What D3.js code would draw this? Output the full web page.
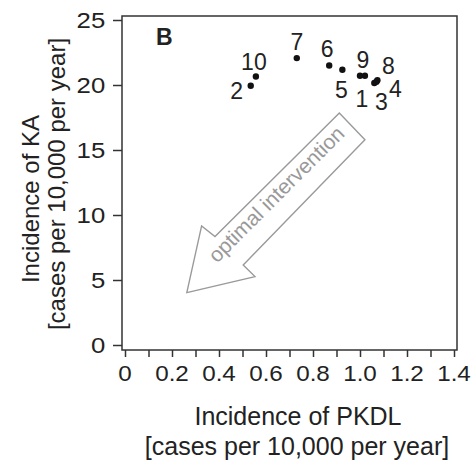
<!DOCTYPE html>
<html>
<head>
<meta charset="utf-8">
<script src="https://cdn.jsdelivr.net/npm/d3@7"></script>
<style>
  body { margin: 0; background: #fff; }
  svg text { font-family: "Liberation Sans", Arial, Helvetica, sans-serif; fill: #222; }
</style>
</head>
<body>
<div id="chart"></div>
<script>
// settings: point id, PKDL incidence, KA incidence
const settings = ['1', '2', '3', '4', '5', '6', '7', '8', '9', '10'];
const pkdl = [1.000, 0.535, 1.061, 1.070, 0.925, 0.869, 0.731, 1.074, 1.021, 0.557];
const ka   = [20.71, 19.94, 20.15, 20.25, 21.17, 21.50, 22.07, 20.36, 20.71, 20.65];

const xTicks = [0, 0.2, 0.4, 0.6, 0.8, 1.0, 1.2, 1.4];
const xTickLabels = ['0', '0.2', '0.4', '0.6', '0.8', '1.0', '1.2', '1.4'];
const xMinorTicks = d3.range(0, 15).map(i => i / 10);
const yTicks = [0, 5, 10, 15, 20, 25];

// where each number label sits relative to its dot (px)
const labelOffset = {
    '1': [2, 31], '2': [-14, 13], '3': [7, 27], '4': [19, 15], '5': [-1, 28],
    '6': [-2, -9], '7': [0, -8], '8': [11, -6], '9': [-2, -8], '10': [-2, -7]
};

// arrow outline in data units
const arrowPts = [
    [0.263, 4.03], [0.326, 9.16], [0.383, 8.34], [0.912, 17.84],
    [1.021, 15.78], [0.503, 6.16], [0.553, 5.26]
];

const width = 473, height = 462;
const box = {left: 122, right: 457, top: 16, bottom: 350};

const svg = d3.select('#chart')
    .append('svg')
    .attr('width', width)
    .attr('height', height);

const x = d3.scaleLinear().domain([0, 1.4]).range([125, 454]);
const y = d3.scaleLinear().domain([0, 25]).range([345, 20]);

// frame
svg.append('rect')
    .attr('x', box.left)
    .attr('y', box.top)
    .attr('width', box.right - box.left)
    .attr('height', box.bottom - box.top)
    .attr('fill', 'none')
    .attr('stroke', '#333')
    .attr('stroke-width', 1.5);

// y axis
const yAxis = svg.append('g')
    .attr('transform', `translate(${box.left},0)`)
    .call(d3.axisLeft(y).tickValues(yTicks).tickSize(9).tickPadding(6));
yAxis.select('.domain').remove();
yAxis.selectAll('line').attr('stroke', '#333').attr('stroke-width', 1.5);
yAxis.selectAll('text')
    .attr('font-size', 23)
    .attr('fill', '#222')
    .attr('transform', 'scale(1.12,1)');

// x axis: minor ticks every 0.1, labels every 0.2
const xAxis = svg.append('g')
    .attr('transform', `translate(0,${box.bottom})`)
    .call(d3.axisBottom(x).tickValues(xMinorTicks).tickSize(7).tickFormat(''));
xAxis.select('.domain').remove();
xAxis.selectAll('line').attr('stroke', '#333').attr('stroke-width', 1.5);

svg.append('g')
    .selectAll('text')
    .data(xTicks)
    .enter()
    .append('text')
    .attr('transform', d => `translate(${x(d)},381) scale(1.1,1)`)
    .attr('text-anchor', 'middle')
    .attr('font-size', 22)
    .text((d, i) => xTickLabels[i]);

// axis titles
svg.append('text')
    .attr('x', 298).attr('y', 425)
    .attr('text-anchor', 'middle')
    .attr('font-size', 25)
    .text('Incidence of PKDL');
svg.append('text')
    .attr('x', 297).attr('y', 455)
    .attr('text-anchor', 'middle')
    .attr('font-size', 25)
    .text('[cases per 10,000 per year]');

svg.append('text')
    .attr('transform', 'translate(39,199) rotate(-90)')
    .attr('text-anchor', 'middle')
    .attr('font-size', 24)
    .text('Incidence of KA');
svg.append('text')
    .attr('transform', 'translate(65,184) rotate(-90)')
    .attr('text-anchor', 'middle')
    .attr('font-size', 24)
    .text('[cases per 10,000 per year]');

// panel letter
svg.append('text')
    .attr('x', 156).attr('y', 45)
    .attr('font-size', 23)
    .attr('font-weight', 'bold')
    .text('B');

// arrow annotation
svg.append('path')
    .attr('d', d3.line().x(d => x(d[0])).y(d => y(d[1]))(arrowPts) + 'Z')
    .attr('fill', 'none')
    .attr('stroke', '#9a9a9a')
    .attr('stroke-width', 1.4)
    .attr('stroke-linejoin', 'miter');

svg.append('text')
    .attr('transform', `translate(${x(0.665)},${y(11.2)}) rotate(-45)`)
    .attr('text-anchor', 'middle')
    .attr('font-size', 21)
    .style('fill', '#999')
    .text('optimal intervention');

// points
const pts = settings.map((s, i) => ({id: s, px: pkdl[i], ka: ka[i]}));

svg.append('g')
    .selectAll('circle')
    .data(pts)
    .enter()
    .append('circle')
    .attr('cx', d => x(d.px))
    .attr('cy', d => y(d.ka))
    .attr('r', 3.2)
    .attr('fill', '#111');

svg.append('g')
    .selectAll('text')
    .data(pts)
    .enter()
    .append('text')
    .attr('x', d => x(d.px) + labelOffset[d.id][0])
    .attr('y', d => y(d.ka) + labelOffset[d.id][1])
    .attr('text-anchor', 'middle')
    .attr('font-size', 23)
    .text(d => d.id);
</script>
</body>
</html>
